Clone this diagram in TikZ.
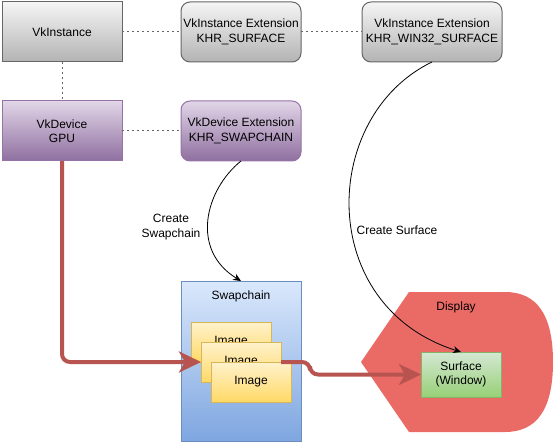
\documentclass[tikz,border=0pt]{standalone}
\usepackage{fontspec}
\setmainfont{Liberation Sans}
\usetikzlibrary{arrows.meta,
                positioning}
\definecolor{instancetop}{HTML}{F5F5F5}
\definecolor{instancebottom}{HTML}{B3B3B3}
\definecolor{instanceline}{HTML}{666666}
\definecolor{devicetop}{HTML}{E1D5E7}
\definecolor{devicebottom}{HTML}{8F6FA0}
\definecolor{deviceline}{HTML}{9673A6}
\definecolor{chaintop}{HTML}{DAE8FC}
\definecolor{chainbottom}{HTML}{7EA6E0}
\definecolor{chainline}{HTML}{6C8EBF}
\definecolor{imagetop}{HTML}{FFF2CC}
\definecolor{imagebottom}{HTML}{FFD966}
\definecolor{imageline}{HTML}{D6B656}
\definecolor{surfacetop}{HTML}{D5E8D4}
\definecolor{surfacebottom}{HTML}{97D077}
\definecolor{surfaceline}{HTML}{82B366}
\definecolor{displayred}{HTML}{EA6B66}
\definecolor{flowred}{HTML}{B85450}
\definecolor{linkgray}{HTML}{666666}
\tikzset{box/.style =
   {rectangle,
    draw,
    line width=1pt,
    inner sep=0pt,
    outer sep=0pt,
    align=center,
    text=black,
    font=\fontsize{12}{14.5}\selectfont}}
\tikzset{instance/.style =
   {box,
    draw=instanceline,
    top color=instancetop,
    bottom color=instancebottom,
    minimum width=120pt,
    minimum height=60pt}}
\tikzset{device/.style =
   {box,
    draw=deviceline,
    top color=devicetop,
    bottom color=devicebottom,
    minimum width=120pt,
    minimum height=60pt}}
\tikzset{extension/.style = {rounded corners=9pt}}
\tikzset{chain-box/.style =
   {box,
    draw=chainline,
    top color=chaintop,
    bottom color=chainbottom,
    minimum width=120pt,
    minimum height=160pt}}
\tikzset{swap-image/.style =
   {box,
    draw=imageline,
    top color=imagetop,
    bottom color=imagebottom,
    minimum width=80pt,
    minimum height=40pt}}
\tikzset{surface-box/.style =
   {box,
    draw=surfaceline,
    top color=surfacetop,
    bottom color=surfacebottom,
    minimum width=80pt,
    minimum height=45pt}}
\tikzset{caption/.style =
   {align=center,
    inner sep=0pt,
    text=black,
    font=\fontsize{12}{14.5}\selectfont}}
\tikzset{link/.style = {draw=linkgray, line width=1pt, dash pattern=on 2pt off 3pt}}
\tikzset{arrow/.style = {draw, line width=0.8pt, -{Stealth[length=8pt,width=7pt]}}}
\tikzset{flow/.style =
   {draw=flowred,
    line width=4pt,
    rounded corners=8pt,
    -{Stealth[length=22pt,width=21pt,inset=6pt]}}}

\begin{document}
\begin{tikzpicture}[x=1pt, y=-1pt]

    \useasboundingbox (0,0) rectangle (553,443);

    \node [instance] (inst) at (62,32) {VkInstance};

    \node [instance,
           extension,
           right = 59pt of inst] (surfext) {VkInstance Extension\\KHR\_SURFACE};

    \node [instance,
           extension,
           minimum width=140pt,
           right = 61pt of surfext] (winext) {VkInstance Extension\\KHR\_WIN32\_SURFACE};

    \node [device,
           below = 39pt of inst] (dev) {VkDevice\\GPU};

    \node [device,
           extension,
           right = 59pt of dev] (devext) {VkDevice Extension\\KHR\_SWAPCHAIN};

    \draw [link] (inst) -- (surfext);
    \draw [link] (surfext) -- (winext);
    \draw [link] (inst) -- (dev);
    \draw [link] (dev) -- (devext);

    % swapchain with its images
    \node [chain-box,
           below = 120pt of devext] (swap) {};
    \path (swap.north) ++(0,15) node [caption] (swaptitle) {Swapchain};

    \node [swap-image] (img1) at (231,342) {Image};
    \node [swap-image] (img2) at (241,362) {Image};
    \node [swap-image] (img3) at (251,382) {Image};

    % display
    \fill [displayred] (361,362) -- (409,292) -- (505,292)
          .. controls (537,292) and (553,315) .. (553,362)
          .. controls (553,409) and (537,432) .. (505,432)
          -- (409,432) -- cycle;
    \node [caption] (display) at (456,307) {Display};

    \node [surface-box] (surf) at (461,374.5) {Surface\\(Window)};

    \draw [arrow] (devext.south) .. controls +(-36,29) and +(-51,-31) .. (swap.north);
    \draw [arrow] (winext.south) .. controls +(-112,54) and +(-146,-46) .. (surf.north);

    \node [caption] (swaplabel) at (171,227) {Create\\Swapchain};
    \node [caption] (surflabel) at (397,230) {Create Surface};

    \draw [flow] (dev.south) |- (img2.west);
    \draw [flow] (img2.east) -- ++(29,0) |- (surf.west);

\end{tikzpicture}
\end{document}
